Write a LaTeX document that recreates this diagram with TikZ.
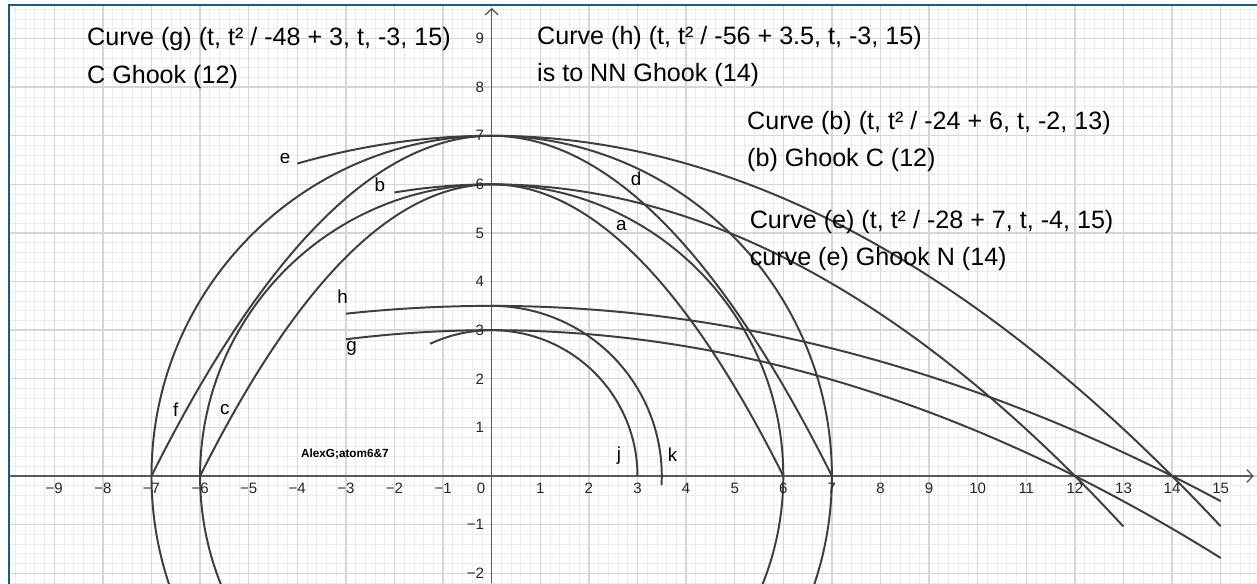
\documentclass[tikz,border=0pt]{standalone}
\usepackage{fontspec}
\setmainfont{Liberation Sans}
\usetikzlibrary{arrows.meta}
\definecolor{curvecol}{RGB}{62,62,62}
\definecolor{framecol}{RGB}{28,90,132}
\definecolor{majorgrid}{RGB}{214,214,214}
\definecolor{minorgrid}{RGB}{236,236,236}
\definecolor{axiscol}{RGB}{90,90,90}
\begin{document}
\begin{tikzpicture}[x=1cm,y=1cm,
  curve/.style={line width=1.15pt, draw=curvecol},
  axisline/.style={line width=0.85pt, draw=axiscol, -{Straight Barb[length=3.5pt,width=7.5pt,line width=0.8pt]}},
  tick/.style={font=\fontsize{8.8}{10}\selectfont, text=black!85, inner sep=0pt},
  lbl/.style={font=\fontsize{11}{13}\selectfont, text=black, inner sep=0pt},
  bigtext/.style={font=\fontsize{14.7}{17}\selectfont, text=black, inner sep=0pt, anchor=base west}]
\useasboundingbox (-10.117,-2.202) rectangle (15.747,9.794);
\fill[white] (-10.117,-2.202) rectangle (15.747,9.794);
\begin{scope}
  \clip (-9.93,-2.21) rectangle (15.75,9.69);
  \draw[minorgrid, line width=0.45pt, step=0.2] (-10.2,-2.4) grid (15.8,9.8);
  \draw[majorgrid, line width=0.8pt, step=1] (-11,-3) grid (16,10);
  % axes
  \draw[axisline] (-9.93,0) -- (15.68,0);
  \draw[axisline] (0,-2.21) -- (0,9.63);
  % circles
  \draw[curve] (0,0) circle[radius=7];
  \draw[curve] (0,0) circle[radius=6];
  % parabolas d and a (with left halves f and c)
  \draw[curve, domain=-7:7, samples=120, smooth] plot (\x, {7-\x*\x/7});
  \draw[curve, domain=-6:6, samples=120, smooth] plot (\x, {6-\x*\x/6});
  % curves b, e, g, h
  \draw[curve, domain=-2:13, samples=120, smooth] plot (\x, {6-\x*\x/24});
  \draw[curve, domain=-4:15, samples=120, smooth] plot (\x, {7-\x*\x/28});
  \draw[curve, domain=-3:15, samples=120, smooth] plot (\x, {3-\x*\x/48});
  \draw[curve, domain=-3:15, samples=120, smooth] plot (\x, {3.5-\x*\x/56});
  % arcs j and k
  \draw[curve] (115:3) arc[start angle=115, end angle=0, radius=3];
  \draw[curve] (90:3.5) arc[start angle=90, end angle=-3.1, radius=3.5];
\end{scope}
% frame
\draw[framecol, line width=1.6pt] (-9.93,-2.3) -- (-9.93,9.69) -- (15.8,9.69);
% tick labels
\foreach \i in {1,...,15} \node[tick] (xt\i) at (\i,-0.26) {\i};
\foreach \i in {1,...,9} \node[tick] (xn\i) at (-\i,-0.26) {−\i};
\node[tick] (zero) at (-0.22,-0.26) {0};
\foreach \i in {1,...,9} \node[tick, anchor=east] (yt\i) at (-0.15,\i) {\i};
\foreach \i in {1,2} \node[tick, anchor=east] (yn\i) at (-0.15,-\i) {−\i};
% curve labels
\node[lbl] (le) at (-4.25,6.54) {e};
\node[lbl] (lb) at (-2.3,6.0) {b};
\node[lbl] (ld) at (2.97,6.12) {d};
\node[lbl] (la) at (2.67,5.16) {a};
\node[lbl] (lh) at (-3.07,3.69) {h};
\node[lbl] (lg) at (-2.88,2.62) {g};
\node[lbl] (lf) at (-6.5,1.37) {f};
\node[lbl] (lc) at (-5.49,1.36) {c};
\node[lbl] (lj) at (2.62,0.41) {j};
\node[lbl] (lk) at (3.72,0.43) {k};
\node[font=\fontsize{6.9}{8}\selectfont\bfseries, inner sep=0pt] (author) at (-3.02,0.45) {AlexG;atom6\&7};
% text blocks
\node[bigtext] (tg1) at (-8.33,8.848) {Curve (g) (t, t² / -48 + 3, t, -3, 15)};
\node[bigtext] (tg2) at (-8.33,8.066) {C Ghook (12)};
\node[bigtext] (th1) at (0.93,8.883) {Curve (h) (t, t² / -56 + 3.5, t, -3, 15)};
\node[bigtext] (th2) at (0.93,8.113) {is to NN Ghook (14)};
\node[bigtext] (tb1) at (5.25,7.119) {Curve (b) (t, t² / -24 + 6, t, -2, 13)};
\node[bigtext] (tb2) at (5.25,6.364) {(b) Ghook C (12)};
\node[bigtext] (te1) at (5.305,5.097) {Curve (e) (t, t² / -28 + 7, t, -4, 15)};
\node[bigtext] (te2) at (5.305,4.327) {curve (e) Ghook N (14)};
\end{tikzpicture}
\end{document}
